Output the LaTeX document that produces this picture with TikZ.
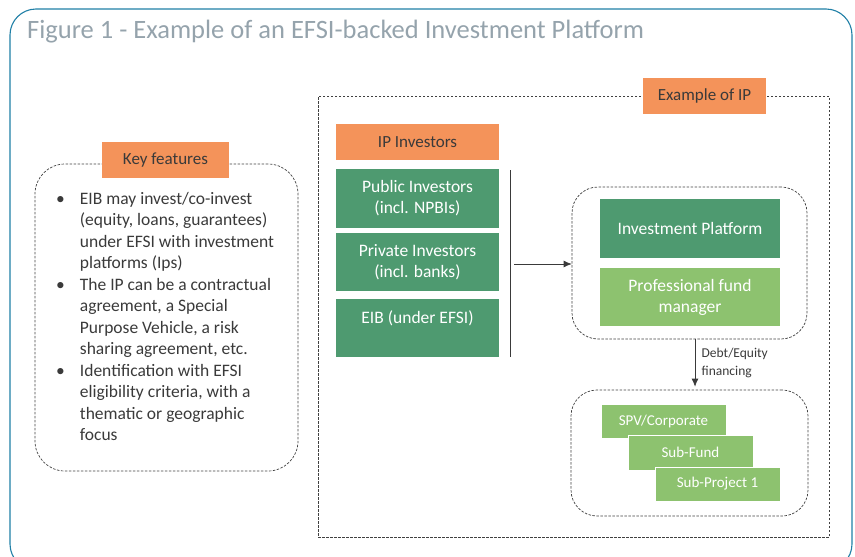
\documentclass[tikz,border=0pt]{standalone}
\usepackage{fontspec}
\setmainfont{Carlito}
\usetikzlibrary{positioning,arrows.meta}

\definecolor{frameblue}{HTML}{1F7FA6}
\definecolor{titlegray}{HTML}{95A3AC}
\definecolor{iporange}{HTML}{F4935A}
\definecolor{darkgreen}{HTML}{4E9A70}
\definecolor{lightgreen}{HTML}{8DC26F}
\definecolor{textgray}{HTML}{3A3A3A}
\definecolor{dashgray}{HTML}{404040}

\tikzset{
  tagbox/.style={fill=iporange, text=textgray, inner sep=0pt, font=\fontsize{17}{20}\selectfont},
  greenbox/.style={fill=darkgreen, text=white, inner sep=0pt, align=center, font=\fontsize{17.5}{21}\selectfont},
  paleBox/.style={fill=lightgreen, text=white, inner sep=0pt, align=center, font=\fontsize{17.5}{21}\selectfont},
  subbox/.style={fill=lightgreen, draw=white, thin, text=white, inner sep=0pt, minimum width=125pt, font=\fontsize{15}{17}\selectfont},
  dashframe/.style={draw=dashgray, line width=0.7pt, dash pattern=on 2.5pt off 1.5pt, inner sep=0pt},
  flow/.style={draw=textgray, line width=0.7pt, -{Latex[length=8pt,width=7pt]}}
}

\begin{document}
\begin{tikzpicture}[x=1pt,y=-1pt]
  \useasboundingbox (0,0) rectangle (855,557);
  \clip (0,0) rectangle (855,557);
  % outer frame and title
  \draw[frameblue, line width=1.1pt, rounded corners=26pt] (10,9) rectangle (852,570);
  \node[anchor=base west, inner sep=0pt, text=titlegray, font=\fontsize{26.5}{30}\selectfont] (title) at (27,38) {Figure 1 - Example of an EFSI-backed Investment Platform};

  % key features
  \node[dashframe, rounded corners=30pt, minimum width=263pt, minimum height=307pt] (keybox) at (166.5,317.5) {};
  \node[tagbox, minimum width=127pt, minimum height=36pt] (keytag) at (165.5,160) {Key features};
  \node[anchor=north west, inner sep=0pt, text=textgray, font=\fontsize{17.5}{21.5}\selectfont] (keytext) at (56,189)
    {\begin{tabular}{@{}l@{\hspace{15pt}}l@{}}
      \textbullet & EIB may invest/co-invest\\
      & (equity, loans, guarantees)\\
      & under EFSI with investment\\
      & platforms (Ips)\\
      \textbullet & The IP can be a contractual\\
      & agreement, a Special\\
      & Purpose Vehicle, a risk\\
      & sharing agreement, etc.\\
      \textbullet & Identification with EFSI\\
      & eligibility criteria, with a\\
      & thematic or geographic\\
      & focus
    \end{tabular}};

  % example of IP
  \node[dashframe, minimum width=511pt, minimum height=441pt] (exframe) at (573.5,316.5) {};
  \node[tagbox, minimum width=123pt, minimum height=36pt] (extag) at (704.5,96) {Example of IP};

  % investors
  \node[tagbox, minimum width=163pt, minimum height=36pt] (invtag) at (417.5,142) {IP Investors};
  \node[greenbox, minimum width=163pt, minimum height=59pt] (public) at (417.5,198.5) {Public Investors\\(incl. NPBIs)};
  \node[greenbox, minimum width=163pt, minimum height=58pt] (private) at (417.5,262) {Private Investors\\(incl. banks)};
  \node[greenbox, minimum width=163pt, minimum height=58pt] (eib) at (417.5,328) {EIB (under EFSI)\\\phantom{x}};
  \coordinate (bartop) at (510,170);
  \coordinate (barbot) at (510,357);
  \coordinate (barmid) at (514,264);
  \draw[textgray, line width=0.8pt] (bartop) -- (barbot);

  % platform
  \node[dashframe, rounded corners=26pt, minimum width=235pt, minimum height=152pt] (platbox) at (689.5,263) {};
  \node[greenbox, minimum width=180pt, minimum height=59pt] (platform) at (690,228.5) {Investment Platform};
  \node[paleBox, minimum width=180pt, minimum height=58pt] (manager) at (690,297) {Professional fund\\manager};
  \draw[flow] (barmid) -- (barmid -| platbox.west);

  % projects
  \node[dashframe, rounded corners=26pt, minimum width=237pt, minimum height=126pt] (projbox) at (689.5,453) {};
  \node[subbox, minimum height=34pt] (spv) at (663.5,421) {SPV/Corporate};
  \node[subbox, minimum height=35pt] (subfund) at (690.5,452.5) {Sub-Fund};
  \node[subbox, minimum height=34pt] (subproj) at (717.5,484) {Sub-Project 1};
  \draw[flow] ([xshift=5.5pt]platbox.south) -- ([xshift=5.5pt,yshift=3pt]projbox.north)
    node[midway, right=3pt, align=left, text=textgray, font=\fontsize{13.5}{18}\selectfont] (debt) {Debt/Equity\\financing};
\end{tikzpicture}
\end{document}
